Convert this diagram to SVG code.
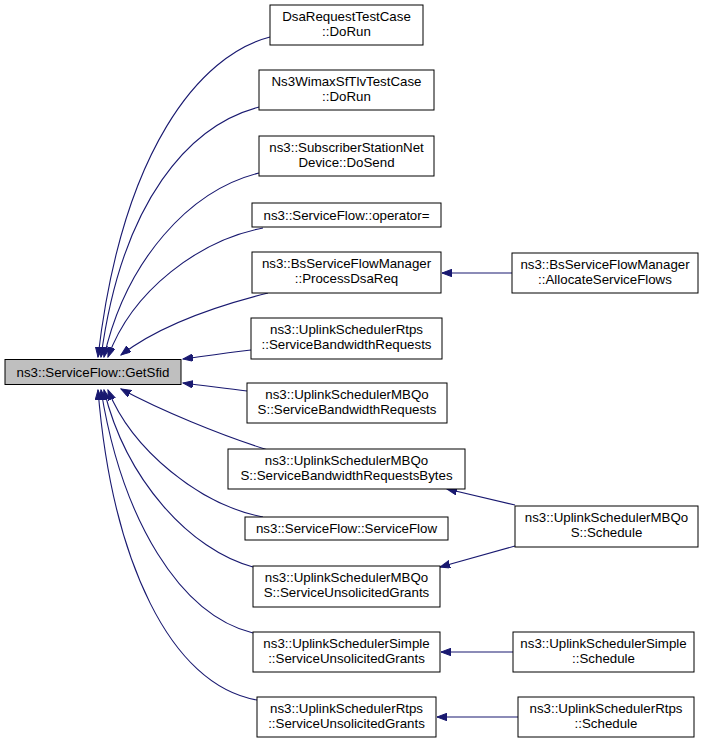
<svg xmlns="http://www.w3.org/2000/svg" width="707" height="743" viewBox="0 0 707 743">
<style>
.n rect{fill:#ffffff;stroke:#000000;stroke-width:1}
.root rect{fill:#bfbfbf;stroke:#000000;stroke-width:1}
text{font-family:"Liberation Sans",Helvetica,Arial,sans-serif;font-size:13.3px;fill:#000000;text-anchor:middle}
.e path{fill:none;stroke:#191970;stroke-width:1.1;marker-end:url(#ah)}
</style>
<defs>
<marker id="ah" markerUnits="userSpaceOnUse" markerWidth="11" markerHeight="8" refX="10" refY="3.75" orient="auto">
<path d="M0,0 L10,3.75 L0,7.5 z" fill="#191970" stroke="#191970" stroke-width="1"/>
</marker>
</defs>
<rect width="707" height="743" fill="#ffffff"/>
<g id="edges" class="e">
<path d="M270,37 C200,55 122,150 98,357"/>
<path d="M259,107 C190,125 122,200 101,357"/>
<path d="M259,173 C190,190 126,260 104,357"/>
<path d="M263,228 C200,240 132,290 108,357"/>
<path d="M268,293 C220,305 160,325 121,355"/>
<path d="M251,350 C225,353 205,356 183,359"/>
<path d="M247,391 C225,388 205,386 183,383"/>
<path d="M268,450 C220,435 160,410 121,389"/>
<path d="M263,517 C200,505 132,450 108,390"/>
<path d="M253,567 C190,550 126,480 104,390"/>
<path d="M253,633 C180,615 122,520 101,390"/>
<path d="M257,700 C170,685 112,560 98,390"/>
<path d="M512,273 L442,273"/>
<path d="M515,505 L447,489"/>
<path d="M515,546 L440,567"/>
<path d="M513,652 L441,652"/>
<path d="M518,717 L437,717"/>
</g>
<g id="n0" class="root"><rect x="5" y="359.5" width="176" height="25"/><text x="93" y="376.5">ns3::ServiceFlow::GetSfid</text></g>
<g id="n1" class="n"><rect x="270" y="5" width="153" height="40"/><text x="346.5" y="21">DsaRequestTestCase</text><text x="346.5" y="36">::DoRun</text></g>
<g id="n2" class="n"><rect x="259" y="70" width="175" height="40"/><text x="346.5" y="86">Ns3WimaxSfTlvTestCase</text><text x="346.5" y="101">::DoRun</text></g>
<g id="n3" class="n"><rect x="259" y="136" width="175" height="40"/><text x="346.5" y="152">ns3::SubscriberStationNet</text><text x="346.5" y="167">Device::DoSend</text></g>
<g id="n4" class="n"><rect x="252" y="203" width="189" height="24"/><text x="346.5" y="219.5">ns3::ServiceFlow::operator=</text></g>
<g id="n5" class="n"><rect x="252" y="252" width="189" height="41"/><text x="346.5" y="268">ns3::BsServiceFlowManager</text><text x="346.5" y="283">::ProcessDsaReq</text></g>
<g id="n6" class="n"><rect x="251" y="318" width="191" height="41"/><text x="346.5" y="334">ns3::UplinkSchedulerRtps</text><text x="346.5" y="349">::ServiceBandwidthRequests</text></g>
<g id="n7" class="n"><rect x="247" y="383" width="200" height="40"/><text x="347" y="399">ns3::UplinkSchedulerMBQo</text><text x="347" y="414">S::ServiceBandwidthRequests</text></g>
<g id="n8" class="n"><rect x="228" y="449" width="237" height="40"/><text x="346.5" y="465">ns3::UplinkSchedulerMBQo</text><text x="346.5" y="480">S::ServiceBandwidthRequestsBytes</text></g>
<g id="n9" class="n"><rect x="245" y="517" width="203" height="23"/><text x="346.5" y="533">ns3::ServiceFlow::ServiceFlow</text></g>
<g id="n10" class="n"><rect x="253" y="566" width="187" height="41"/><text x="346.5" y="582">ns3::UplinkSchedulerMBQo</text><text x="346.5" y="597">S::ServiceUnsolicitedGrants</text></g>
<g id="n11" class="n"><rect x="253" y="632" width="187" height="40"/><text x="346.5" y="648">ns3::UplinkSchedulerSimple</text><text x="346.5" y="663">::ServiceUnsolicitedGrants</text></g>
<g id="n12" class="n"><rect x="257" y="697" width="179" height="40"/><text x="346.5" y="713">ns3::UplinkSchedulerRtps</text><text x="346.5" y="728">::ServiceUnsolicitedGrants</text></g>
<g id="n13" class="n"><rect x="512" y="253" width="186" height="40"/><text x="605" y="269">ns3::BsServiceFlowManager</text><text x="605" y="284">::AllocateServiceFlows</text></g>
<g id="n14" class="n"><rect x="515" y="506" width="183" height="41"/><text x="606.5" y="522">ns3::UplinkSchedulerMBQo</text><text x="606.5" y="537">S::Schedule</text></g>
<g id="n15" class="n"><rect x="513" y="632" width="181" height="40"/><text x="603.5" y="648">ns3::UplinkSchedulerSimple</text><text x="603.5" y="663">::Schedule</text></g>
<g id="n16" class="n"><rect x="518" y="697" width="176" height="40"/><text x="606" y="713">ns3::UplinkSchedulerRtps</text><text x="606" y="728">::Schedule</text></g>
</svg>
